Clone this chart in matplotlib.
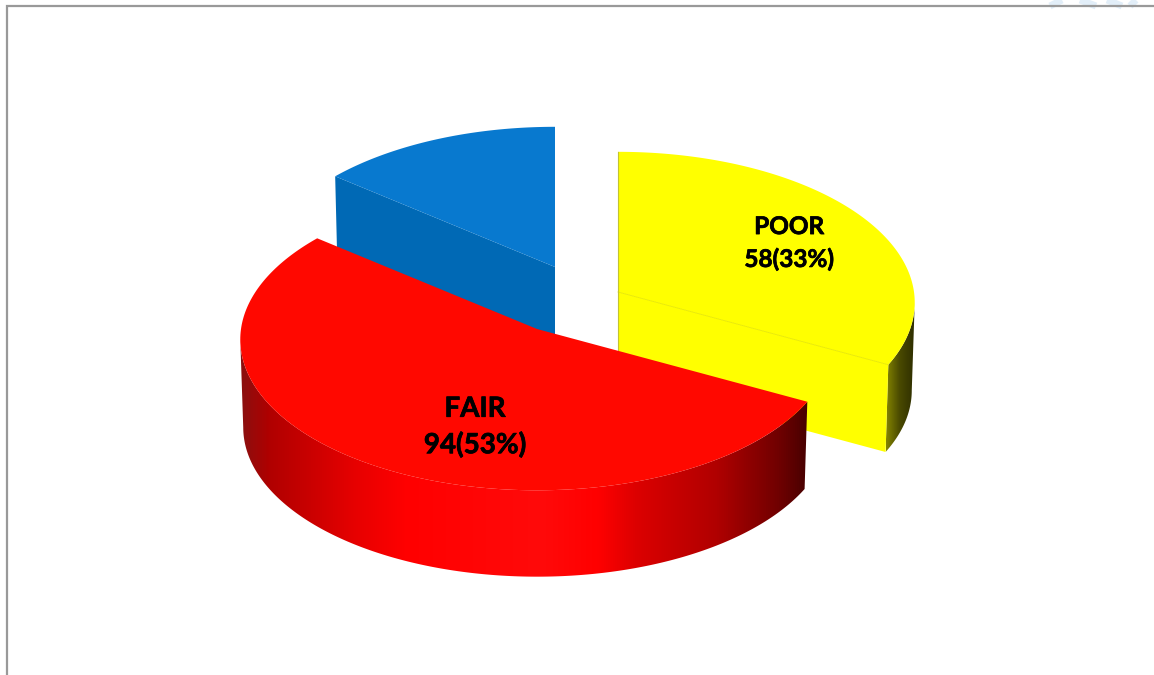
import numpy as np
import matplotlib
matplotlib.use("Agg")
import matplotlib.pyplot as plt
import matplotlib.patheffects as pe
from matplotlib.colors import LinearSegmentedColormap
from matplotlib.patches import Polygon

labels = ["POOR", "FAIR", ""]
values = [58, 94, 25]

W, H = 1154, 675
RX, RY = 296, 150
DEPTH = 88
PERSP = 0.07
BOTTOM_SCALE = 0.99

# where each exploded slice has its tip, in pixels
tips = [(618, 292), (537, 329), (555, 267)]
top_colors = ["#ffff00", "#ff0800", "#0879cf"]
label_pos = [(789, 243), (475, 427)]
label_size = [17.5, 20]
label_gap = [1.48, 1.42]

red_wall = [(0.0, "#8a1010"), (0.05, "#b00000"), (0.2, "#e60000"), (0.29, "#ff0000"),
            (0.53, "#ff0a0a"), (0.63, "#ff0000"), (0.7, "#dc0000"), (0.84, "#b00000"),
            (0.95, "#700000"), (1.0, "#480000")]
yellow_wall = [(0.0, "#858500"), (0.45, "#4a4a00"), (1.0, "#2b2b00")]

# faint logo showing behind the top edge of the page
logo_strokes = [(1062, 0, 1050, 6), (1080, 0, 1096, 6), (1107, 0, 1122, 6), (1136, 0, 1130, 6)]


def rim(tip, a0, a1, drop=0, scale=1.0, n=200):
    # ellipse arc of the pie, angles clockwise from 12 o'clock
    t = np.radians(np.linspace(a0, a1, n))
    s = scale / (1 + PERSP * np.cos(t))
    return np.column_stack([tip[0] + RX * np.sin(t) * s, tip[1] - RY * np.cos(t) * s + drop])


def wall(ax, tip, a0, a1, stops):
    top = rim(tip, a0, a1)
    bot = rim(tip, a0, a1, DEPTH, BOTTOM_SCALE)
    poly = Polygon(np.vstack([top, bot[::-1]]), closed=True, fc="none", ec="none", transform=ax.transData)
    ax.add_patch(poly)
    x0, x1 = min(top[:, 0].min(), bot[:, 0].min()), max(top[:, 0].max(), bot[:, 0].max())
    cmap = LinearSegmentedColormap.from_list("wall", stops)
    grad = np.linspace(0, 1, 512).reshape(1, -1)
    im = ax.imshow(grad, cmap=cmap, extent=(x0, x1, H, 0), aspect="auto", zorder=poly.get_zorder())
    im.set_clip_path(poly)


def cut_face(ax, tip, angle, color):
    corner = rim(tip, angle, angle, n=1)[0]
    lower = rim(tip, angle, angle, DEPTH, BOTTOM_SCALE, n=1)[0]
    pts = [tip, corner, lower, (tip[0], tip[1] + DEPTH)]
    ax.add_patch(Polygon(pts, closed=True, fc=color, ec="none"))
    return corner


def top_face(ax, tip, a0, a1, color):
    pts = np.vstack([[tip], rim(tip, a0, a1)])
    ax.add_patch(Polygon(pts, closed=True, fc=color, ec="none"))


shares = np.array(values) / sum(values)
edges = np.concatenate([[0], np.cumsum(shares) * 360])
# angle where the ellipse is widest once perspective is applied
widest = np.degrees(np.arccos(-PERSP))

fig = plt.figure(figsize=(W / 100, H / 100), dpi=100, facecolor="white")
ax = fig.add_axes([0, 0, 1, 1])
ax.axis("off")

for x0, y0, x1, y1 in logo_strokes:
    ax.plot([x0, x1], [y0, y1], color="#e2eef8", lw=5, solid_capstyle="butt", zorder=0.5)

# blue slice sits furthest back
cut_face(ax, tips[2], edges[2], "#0069b5")
top_face(ax, tips[2], edges[2], edges[3], top_colors[2])

# yellow slice
wall(ax, tips[0], widest, edges[1], yellow_wall)
corner = cut_face(ax, tips[0], edges[1], top_colors[0])
top_face(ax, tips[0], edges[0], edges[1], top_colors[0])
ax.plot([tips[0][0], corner[0]], [tips[0][1], corner[1]], color="#e8e800", lw=0.6, zorder=1)
ax.plot([tips[0][0]] * 2, [tips[0][1] - 140, tips[0][1] + DEPTH], color="#c4c430", lw=0.8, zorder=1)

# red slice in front of both
wall(ax, tips[1], edges[1], 360 - widest, red_wall)
top_face(ax, tips[1], edges[1], edges[2], top_colors[1])

for i, (x, y) in enumerate(label_pos):
    pct = round(shares[i] * 100)
    ax.text(x, y, f"{labels[i]}\n{values[i]}({pct}%)", ha="center", va="center", family="Lato",
            fontweight="bold", fontsize=label_size[i], color="black", linespacing=label_gap[i],
            path_effects=[pe.withStroke(linewidth=0.5, foreground="black")])

# page frame, open on the right and bottom
ax.plot([7, 7, W], [H, 6, 6], color="#999999", lw=1.6, solid_joinstyle="miter")

ax.set_xlim(0, W)
ax.set_ylim(H, 0)
fig.savefig("out.png", dpi=100)
